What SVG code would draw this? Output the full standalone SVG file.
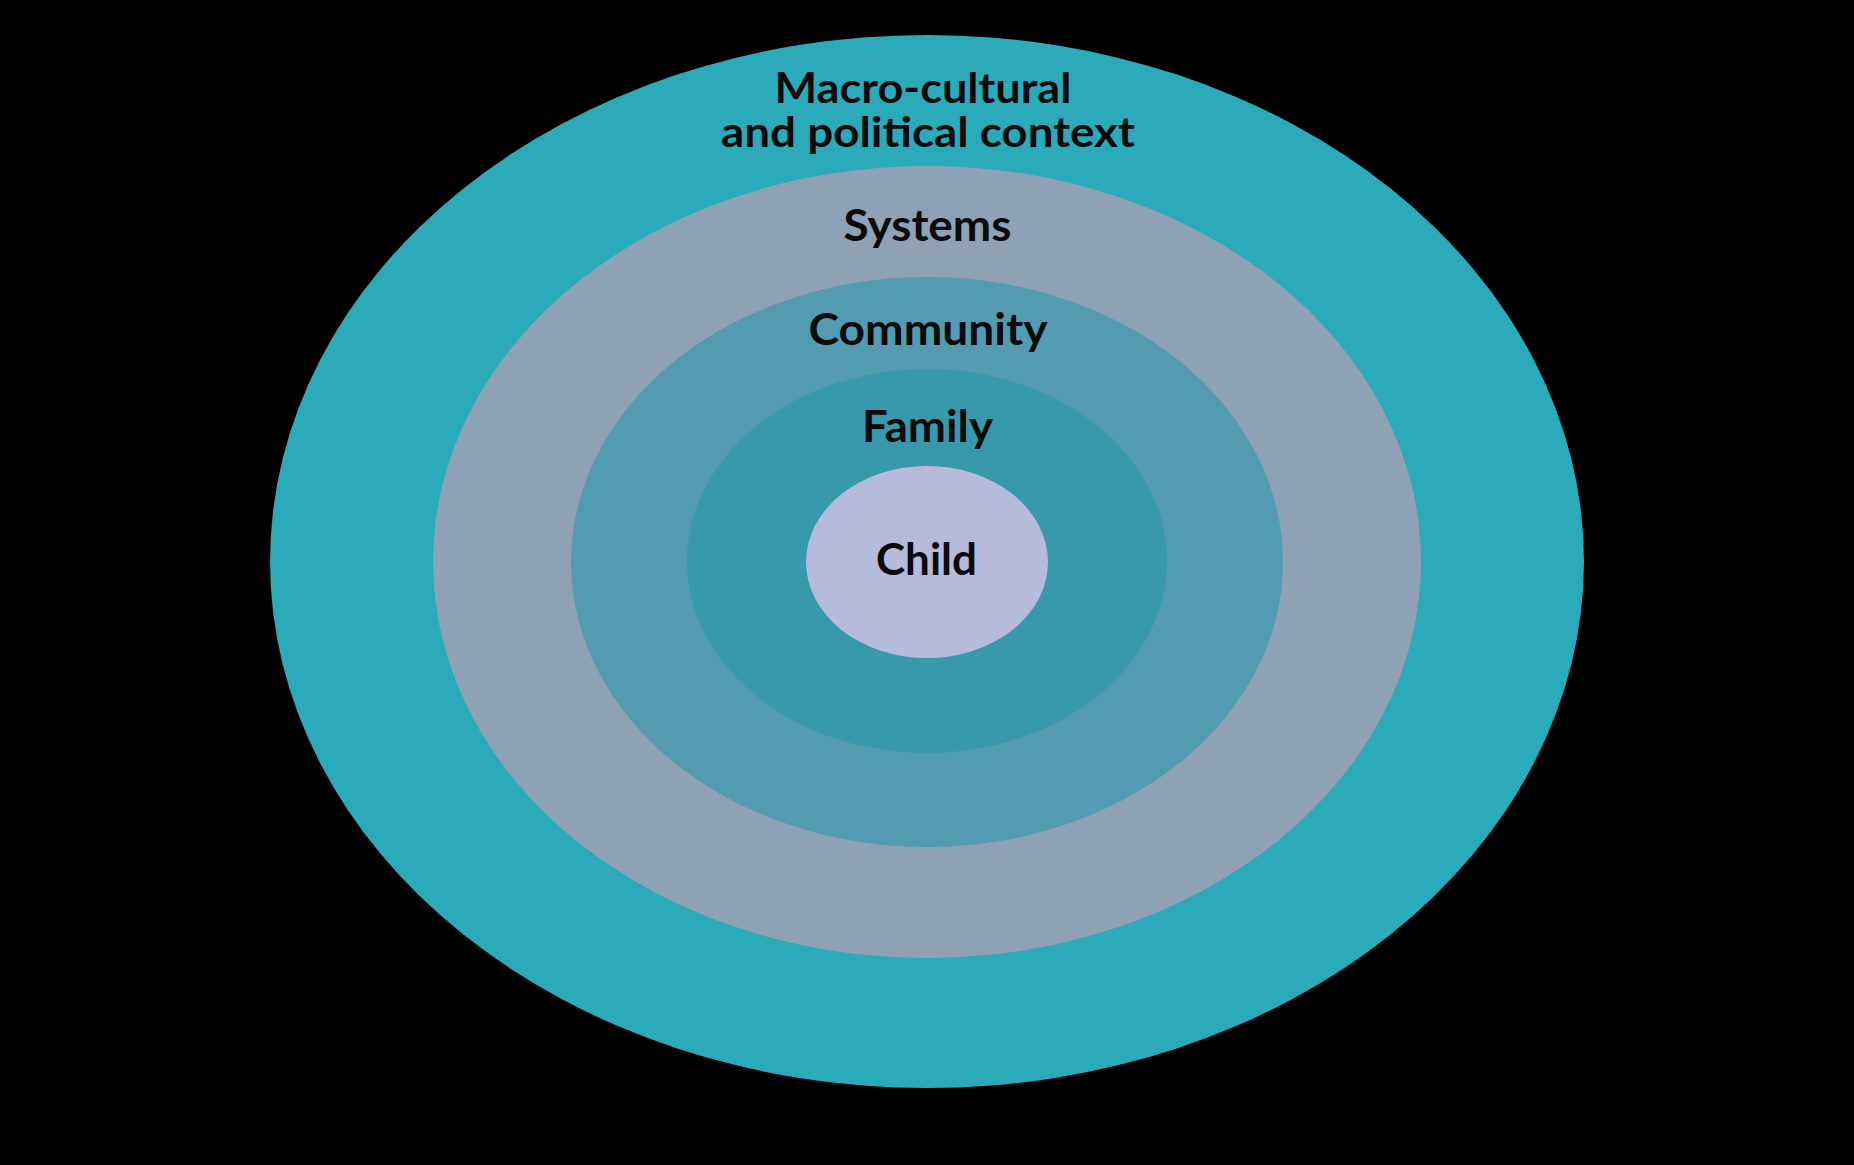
<svg xmlns="http://www.w3.org/2000/svg" width="1854" height="1165" viewBox="0 0 1854 1165">
<style>
.lbl{font-family:Lato,"Source Sans Pro","Noto Sans",sans-serif;font-weight:700;font-size:43px;fill:#0b0b0b;text-anchor:middle}
.top{font-size:42px}
</style>
<rect x="0" y="0" width="1854" height="1165" fill="#000"/>
<g id="macro">
<ellipse cx="927" cy="561.5" rx="657" ry="526.5" fill="#2BAAB9"/>
<text class="lbl top"><tspan x="923" y="102.5" textLength="297" lengthAdjust="spacingAndGlyphs">Macro-cultural</tspan><tspan x="928" y="146.5" textLength="414" lengthAdjust="spacingAndGlyphs">and political context</tspan></text>
</g>
<g id="systems">
<ellipse cx="927" cy="562" rx="494" ry="396" fill="#8FA1B5"/>
<text class="lbl" x="927.5" y="241" textLength="168" lengthAdjust="spacingAndGlyphs">Systems</text>
</g>
<g id="community">
<ellipse cx="927" cy="562" rx="356" ry="285" fill="#539BB1"/>
<text class="lbl" x="928" y="345" textLength="239" lengthAdjust="spacingAndGlyphs">Community</text>
</g>
<g id="family">
<ellipse cx="927" cy="561" rx="240" ry="192" fill="#3899AD"/>
<text class="lbl" x="927.5" y="442" textLength="131" lengthAdjust="spacingAndGlyphs">Family</text>
</g>
<g id="child">
<ellipse cx="927" cy="562" rx="121" ry="96" fill="#B6BBDB"/>
<text class="lbl" x="926.5" y="575" textLength="101" lengthAdjust="spacingAndGlyphs">Child</text>
</g>
<g id="connectors"/>
</svg>
